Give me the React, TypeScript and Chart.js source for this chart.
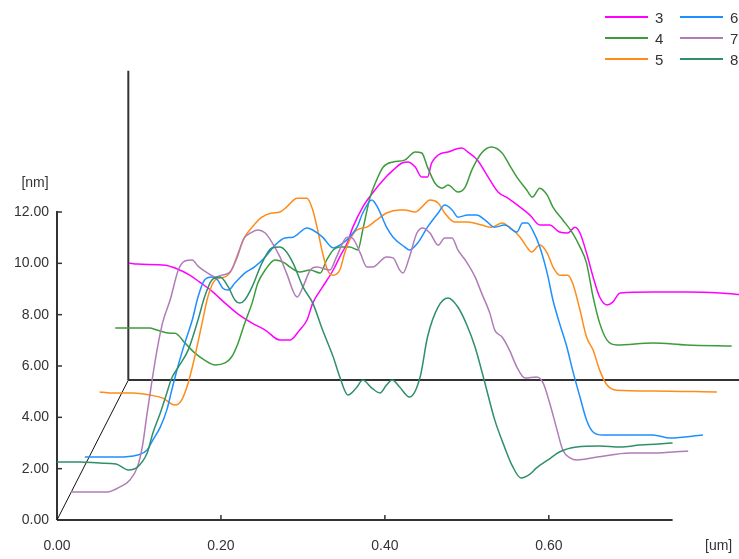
import React, { useEffect, useRef } from 'react';
import { Chart, registerables } from 'chart.js';

Chart.register(...registerables);

// ---- Data (positions in [um], heights in [nm], as read on the chart axes) ----
const seriesNames = ['3', '4', '5', '6', '7', '8'];
const seriesColors = ['#ff00ff', '#3c9c3c', '#ff8c1a', '#1e8fff', '#b07cb8', '#2f8f68'];

const s3 = [[0.088,10.01],[0.098,9.97],[0.132,9.93],[0.144,9.82],[0.162,9.54],[0.174,9.27],[0.189,8.92],[0.205,8.45],[0.221,8.02],[0.238,7.67],[0.254,7.40],[0.272,7.01],[0.284,7.01],[0.296,7.40],[0.305,7.79],[0.312,8.45],[0.324,9.08],[0.337,9.74],[0.345,10.25],[0.354,10.79],[0.361,11.41],[0.373,12.19],[0.385,12.74],[0.398,13.25],[0.410,13.63],[0.421,13.91],[0.428,13.95],[0.437,13.75],[0.445,13.36],[0.452,13.36],[0.457,13.91],[0.465,14.22],[0.477,14.34],[0.494,14.49],[0.501,14.34],[0.513,14.02],[0.526,13.36],[0.538,12.78],[0.550,12.54],[0.565,12.19],[0.577,11.88],[0.589,11.49],[0.601,11.49],[0.613,11.22],[0.623,11.18],[0.632,11.41],[0.638,11.18],[0.646,10.40],[0.654,9.47],[0.662,8.69],[0.671,8.38],[0.678,8.49],[0.687,8.84],[0.727,8.88],[0.768,8.88],[0.809,8.84],[0.838,8.77]];

const s4 = [[0.071,7.48],[0.113,7.48],[0.122,7.40],[0.138,7.28],[0.144,7.28],[0.156,6.90],[0.168,6.51],[0.180,6.23],[0.193,6.04],[0.205,6.12],[0.213,6.35],[0.221,6.90],[0.229,7.67],[0.238,8.45],[0.245,9.23],[0.254,9.74],[0.266,10.13],[0.278,10.01],[0.284,9.86],[0.296,9.66],[0.309,9.74],[0.321,9.62],[0.329,10.13],[0.337,10.52],[0.345,10.64],[0.357,10.64],[0.367,10.52],[0.373,11.30],[0.382,12.58],[0.390,13.25],[0.398,13.75],[0.410,13.95],[0.424,14.02],[0.437,14.34],[0.445,14.30],[0.452,13.75],[0.461,13.13],[0.470,12.93],[0.477,13.05],[0.489,12.78],[0.498,12.97],[0.506,13.63],[0.518,14.30],[0.530,14.53],[0.543,14.30],[0.552,13.83],[0.561,13.36],[0.573,12.86],[0.580,12.58],[0.589,12.93],[0.598,12.66],[0.605,12.19],[0.617,11.69],[0.629,11.18],[0.638,10.64],[0.646,10.01],[0.654,8.69],[0.662,7.67],[0.671,7.01],[0.683,6.82],[0.727,6.90],[0.768,6.82],[0.823,6.78]];

const s5 = [[0.052,4.99],[0.065,4.95],[0.093,4.95],[0.113,4.87],[0.129,4.75],[0.144,4.48],[0.152,4.67],[0.160,5.34],[0.168,6.35],[0.177,7.67],[0.184,8.69],[0.193,9.35],[0.205,9.47],[0.213,9.74],[0.221,10.40],[0.229,11.02],[0.238,11.41],[0.250,11.80],[0.262,11.96],[0.272,12.00],[0.280,12.19],[0.293,12.54],[0.305,12.54],[0.312,12.08],[0.318,11.30],[0.324,10.40],[0.330,9.74],[0.337,9.54],[0.345,9.74],[0.351,10.40],[0.357,10.91],[0.366,11.30],[0.378,11.41],[0.390,11.69],[0.402,11.96],[0.418,12.08],[0.424,12.08],[0.437,12.00],[0.445,12.19],[0.455,12.47],[0.465,12.35],[0.473,11.96],[0.485,11.61],[0.501,11.61],[0.518,11.49],[0.530,11.41],[0.543,11.57],[0.552,11.41],[0.565,11.02],[0.573,10.64],[0.579,10.44],[0.589,10.71],[0.598,10.40],[0.605,9.86],[0.613,9.54],[0.623,9.54],[0.629,9.23],[0.638,8.18],[0.646,7.13],[0.654,6.62],[0.662,5.84],[0.671,5.26],[0.683,5.06],[0.727,5.03],[0.805,4.99]];

const s6 = [[0.034,2.45],[0.073,2.45],[0.098,2.53],[0.110,2.73],[0.117,3.12],[0.126,3.62],[0.134,4.29],[0.140,5.06],[0.148,6.04],[0.156,6.90],[0.165,7.79],[0.172,8.69],[0.180,9.35],[0.189,9.47],[0.196,9.35],[0.202,9.04],[0.209,8.96],[0.217,9.23],[0.229,9.62],[0.241,9.86],[0.254,10.25],[0.266,10.71],[0.278,10.99],[0.288,11.02],[0.305,11.38],[0.312,11.30],[0.324,11.02],[0.337,10.60],[0.345,10.71],[0.357,11.02],[0.366,11.41],[0.373,11.96],[0.384,12.47],[0.391,12.19],[0.402,11.41],[0.410,11.02],[0.424,10.64],[0.430,10.52],[0.440,10.79],[0.452,11.41],[0.465,11.96],[0.473,12.27],[0.482,12.08],[0.489,11.80],[0.501,11.88],[0.512,11.88],[0.522,11.69],[0.534,11.41],[0.546,11.49],[0.561,11.22],[0.568,11.57],[0.574,11.57],[0.580,11.30],[0.589,10.64],[0.598,9.62],[0.605,8.57],[0.613,7.67],[0.622,6.74],[0.629,5.84],[0.638,4.79],[0.646,3.90],[0.654,3.43],[0.666,3.31],[0.727,3.31],[0.748,3.19],[0.788,3.31]];

const s7 = [[0.017,1.09],[0.061,1.09],[0.077,1.29],[0.089,1.56],[0.098,2.06],[0.104,2.84],[0.110,4.17],[0.116,5.45],[0.122,6.62],[0.129,7.71],[0.138,8.57],[0.148,9.74],[0.156,10.09],[0.165,10.13],[0.172,9.89],[0.184,9.62],[0.193,9.47],[0.201,9.54],[0.211,9.66],[0.220,10.25],[0.227,10.91],[0.238,11.22],[0.245,11.30],[0.254,11.18],[0.262,10.83],[0.272,10.25],[0.280,9.62],[0.293,8.69],[0.300,9.08],[0.309,9.74],[0.317,9.86],[0.333,9.74],[0.341,10.25],[0.354,11.02],[0.360,10.99],[0.370,10.40],[0.378,9.86],[0.385,9.86],[0.402,10.25],[0.410,10.21],[0.418,9.74],[0.422,9.62],[0.430,10.25],[0.439,11.18],[0.446,11.38],[0.455,11.18],[0.465,10.71],[0.473,10.99],[0.482,10.99],[0.489,10.52],[0.498,10.13],[0.510,9.47],[0.518,8.84],[0.528,8.06],[0.534,7.40],[0.543,7.13],[0.552,6.62],[0.561,5.96],[0.571,5.53],[0.585,5.57],[0.593,5.34],[0.601,4.56],[0.610,3.51],[0.617,2.73],[0.626,2.42],[0.634,2.34],[0.659,2.45],[0.699,2.61],[0.727,2.61],[0.770,2.69]];

const s8 = [[0,2.26],[0.028,2.26],[0.052,2.22],[0.072,2.18],[0.087,1.95],[0.098,2.06],[0.110,2.61],[0.117,3.39],[0.126,4.17],[0.134,4.95],[0.140,5.53],[0.148,5.96],[0.160,6.62],[0.172,7.79],[0.180,8.69],[0.189,9.35],[0.199,9.47],[0.209,9.08],[0.217,8.57],[0.223,8.45],[0.229,8.57],[0.238,9.08],[0.250,10.01],[0.262,10.60],[0.272,10.64],[0.278,10.52],[0.288,10.01],[0.300,9.08],[0.312,8.45],[0.324,7.40],[0.337,6.35],[0.345,5.57],[0.355,4.87],[0.365,5.14],[0.373,5.45],[0.384,5.14],[0.394,4.95],[0.402,5.26],[0.409,5.45],[0.418,5.18],[0.430,4.79],[0.443,5.57],[0.452,7.13],[0.465,8.30],[0.477,8.65],[0.489,8.30],[0.500,7.60],[0.510,6.74],[0.522,5.34],[0.534,3.90],[0.546,2.84],[0.555,2.14],[0.566,1.64],[0.577,1.79],[0.585,2.03],[0.599,2.34],[0.613,2.65],[0.634,2.84],[0.662,2.88],[0.687,2.84],[0.711,2.92],[0.751,3.00]];

const seriesData = [s3, s4, s5, s6, s7, s8];

// axis / frame values
const xTickStep = 0.2;
const xTickLast = 0.6;
const xAxisEnd = 0.751;
const xMax = 0.832;
const yTickStep = 2;
const yTickLast = 12;
const yMax = 18;
const wallCornerX = 0.087;
const wallCornerY = 5.45;
const wallTopY = 17.5;

const FONT = '"Liberation Sans", Arial, sans-serif';
const TEXT = '#333333';

const frame3dPlugin = {
  id: 'frame3d',
  beforeDatasetsDraw(chart: any) {
    const { ctx, chartArea } = chart;
    const xs = chart.scales.x;
    const ys = chart.scales.y;
    const x0 = xs.getPixelForValue(0);
    const y0 = ys.getPixelForValue(0);
    const seg = (a: number, b: number, c: number, d: number) => {
      ctx.beginPath();
      ctx.moveTo(a, b);
      ctx.lineTo(c, d);
      ctx.stroke();
    };
    ctx.save();
    ctx.strokeStyle = '#333333';
    ctx.lineCap = 'butt';
    // front axes
    ctx.lineWidth = 2;
    seg(x0, y0, xs.getPixelForValue(xAxisEnd), y0);
    seg(x0, y0, x0, ys.getPixelForValue(yTickLast) - 1);
    // inward tick marks
    ctx.lineWidth = 1.5;
    xs.ticks.forEach((t: any) => {
      if (t.value > 0) {
        const px = xs.getPixelForValue(t.value);
        seg(px, y0, px, y0 - 5);
      }
    });
    ys.ticks.forEach((t: any) => {
      const py = ys.getPixelForValue(t.value);
      seg(x0, py, x0 + 5, py);
    });
    // back wall
    const cx = xs.getPixelForValue(wallCornerX);
    const cy = ys.getPixelForValue(wallCornerY);
    ctx.lineWidth = 2;
    seg(cx, cy, cx, ys.getPixelForValue(wallTopY));
    seg(cx, cy, chartArea.right, cy);
    // depth axis
    ctx.lineWidth = 1;
    ctx.strokeStyle = '#111111';
    seg(x0, y0, cx, cy);
    // unit labels
    ctx.fillStyle = TEXT;
    ctx.font = `14px ${FONT}`;
    ctx.textAlign = 'center';
    ctx.textBaseline = 'middle';
    ctx.fillText('[nm]', x0 - 22, ys.getPixelForValue(yTickLast) - 29);
    ctx.fillText('[um]', xs.getPixelForValue(xAxisEnd) + 46, y0 + 26);
    ctx.restore();
  },
};

export default function App() {
  const canvasRef = useRef<HTMLCanvasElement | null>(null);

  useEffect(() => {
    const canvas = canvasRef.current;
    if (!canvas) return;
    const datasets = seriesNames.map((name, i) => ({
      label: name,
      data: seriesData[i].map(([x, y]) => ({ x, y })),
      borderColor: seriesColors[i],
      backgroundColor: seriesColors[i],
      borderWidth: 1.5,
      pointRadius: 0,
      fill: false,
      cubicInterpolationMode: 'monotone' as const,
      order: seriesNames.length - i,
    }));
    const chart = new Chart(canvas, {
      type: 'line',
      data: { datasets },
      options: {
        animation: false,
        responsive: false,
        devicePixelRatio: 1,
        events: [],
        layout: { padding: { top: 58, right: 0, left: 0, bottom: 0 } },
        plugins: {
          legend: { display: false },
          tooltip: { enabled: false },
        },
        scales: {
          x: {
            type: 'linear',
            min: 0,
            max: xMax,
            grid: { display: false, drawTicks: false },
            border: { display: false },
            ticks: {
              stepSize: xTickStep,
              padding: 18,
              maxRotation: 0,
              color: TEXT,
              font: { family: FONT, size: 14 },
              callback: (v: any) => Number(v).toFixed(2),
            },
            afterBuildTicks: (s: any) => {
              s.ticks = s.ticks.filter((t: any) => t.value <= xTickLast + 1e-6);
            },
            afterFit: (s: any) => {
              s.height = 39;
            },
          },
          y: {
            type: 'linear',
            min: 0,
            max: yMax,
            grid: { display: false, drawTicks: false },
            border: { display: false },
            ticks: {
              stepSize: yTickStep,
              padding: 8,
              color: TEXT,
              font: { family: FONT, size: 14 },
              callback: (v: any) => Number(v).toFixed(2),
            },
            afterBuildTicks: (s: any) => {
              s.ticks = s.ticks.filter((t: any) => t.value <= yTickLast + 1e-6);
            },
            afterFit: (s: any) => {
              s.width = 57;
            },
          },
        },
      },
      plugins: [frame3dPlugin],
    });
    return () => chart.destroy();
  }, []);

  return (
    <div style={{ position: 'fixed', left: 0, top: 0, width: 739, height: 559, background: '#ffffff' }}>
      <canvas ref={canvasRef} width={739} height={559} style={{ display: 'block', width: 739, height: 559 }} />
      {seriesNames.map((name, i) => {
        const col = Math.floor(i / 3);
        const row = i % 3;
        return (
          <div
            key={name}
            style={{
              position: 'absolute',
              left: 605 + col * 75,
              top: 8 + row * 21,
              height: 18,
              display: 'flex',
              alignItems: 'center',
              fontFamily: FONT,
              fontSize: 15,
              color: TEXT,
              whiteSpace: 'nowrap',
            }}
          >
            <span style={{ display: 'inline-block', width: 43, height: 2, background: seriesColors[i], marginRight: 7 }} />
            <span>{name}</span>
          </div>
        );
      })}
    </div>
  );
}
